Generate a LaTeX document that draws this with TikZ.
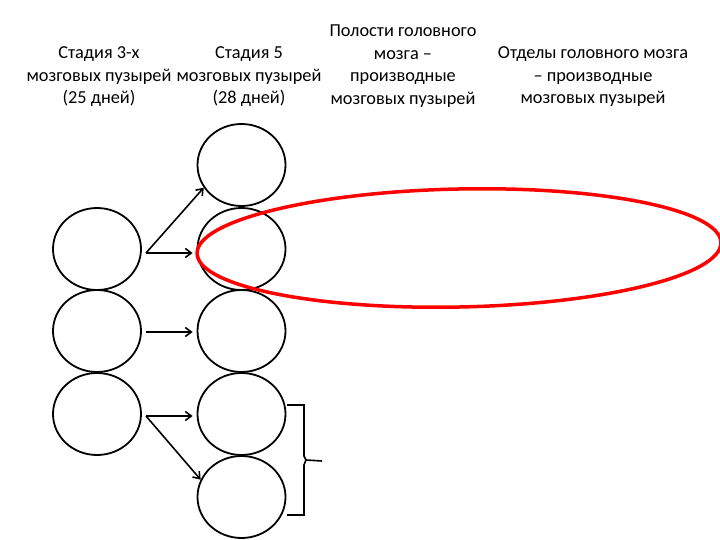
\documentclass[tikz,border=0pt]{standalone}
\usepackage{fontspec}
\setmainfont{Carlito}
\usetikzlibrary{shapes.geometric,arrows.meta}
\begin{document}
\begin{tikzpicture}[x=1pt,y=-1pt,
  bubble/.style={draw=black,line width=1.8pt,ellipse,minimum width=88pt,minimum height=82pt,inner sep=0pt},
  arr/.style={draw=black,line width=1.6pt,-{Straight Barb[length=6pt,width=9pt,line width=1.6pt]}},
  lbl/.style={align=center,font=\fontsize{18.3}{22.5}\selectfont,inner sep=0pt}]
\useasboundingbox (0,0) rectangle (720,540);
% texts
\node[lbl] (t1) at (99,77) {Стадия 3-х\\мозговых пузырей\\(25 дней)};
\node[lbl] (t2) at (249,77) {Стадия 5\\мозговых пузырей\\(28 дней)};
\node[lbl] (t3) at (403,66) {Полости головного\\мозга –\\производные\\мозговых пузырей};
\node[lbl] (t4) at (593,77) {Отделы головного мозга\\– производные\\мозговых пузырей};
% left column
\node[bubble] (l1) at (97,249) {};
\node[bubble] (l2) at (97,331) {};
\node[bubble] (l3) at (97,414) {};
% middle column
\node[bubble] (m1) at (241.5,165) {};
\node[bubble] (m2) at (241.5,249) {};
\node[bubble] (m3) at (241.5,331) {};
\node[bubble] (m4) at (241.5,414) {};
\node[bubble] (m5) at (241.5,497) {};
% arrow starts
\coordinate (s1) at (146,253);
\coordinate (s2) at (146,332);
\coordinate (s3) at (146,416);
\draw[arr] (s1) -- (m1.211);
\draw[arr,shorten >=4pt] (s1) -- (s1 -| m2.west);
\draw[arr,shorten >=4pt] (s2) -- (s2 -| m3.west);
\draw[arr,shorten >=4pt] (s3) -- (s3 -| m4.west);
\draw[arr] (s3) -- (m5.157);
% bracket
\coordinate (b1) at (287,405);
\coordinate (b2) at (287,515);
\coordinate (bt) at (322,461);
\draw[line width=1.6pt,line join=miter] (b1) -- (304,405) -- (304,456) -- (306,460) -- (bt) (306,460) -- (304,465) -- (304,515) -- (b2);
% red ellipse
\node[draw=red,line width=3.5pt,ellipse,minimum width=524pt,minimum height=118pt,inner sep=0pt,rotate=1.2] (re) at (459,248) {};
\end{tikzpicture}
\end{document}
